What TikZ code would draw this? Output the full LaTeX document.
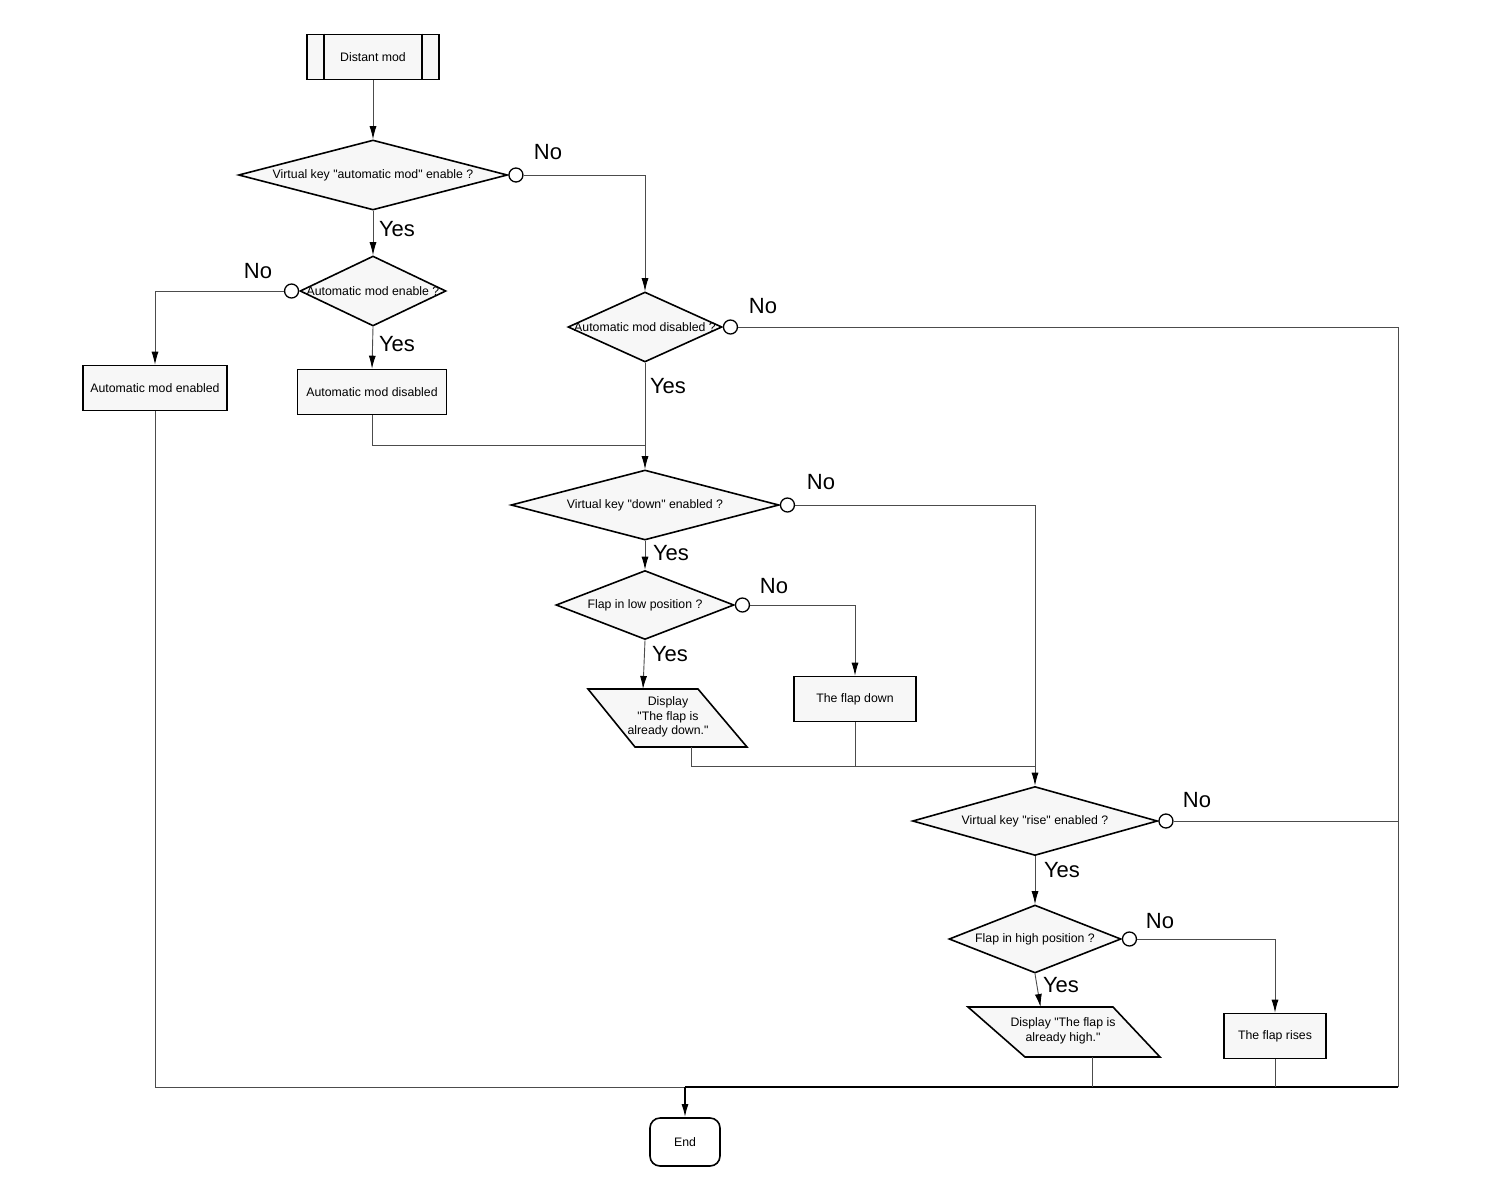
\documentclass[tikz,border=0pt]{standalone}
\usepackage{fontspec}
\setmainfont{Liberation Sans}[Ligatures=TeXOff]
\usetikzlibrary{shapes.geometric,arrows.meta,calc}

\begin{document}
\begin{tikzpicture}[x=1pt,y=-1pt,
  font=\fontsize{12.3}{14.5}\selectfont,
  box/.style={rectangle,draw,line width=1.6pt,fill=gray!6,minimum width=#1,minimum height=45pt,inner sep=0pt},
  decision/.style 2 args={diamond,draw,line width=1.6pt,fill=gray!6,minimum width=#1,minimum height=#2,inner sep=0pt},
  iobox/.style={draw,line width=1.6pt,fill=gray!6,line join=miter},
  knob/.style={circle,draw,line width=1.3pt,fill=white,minimum size=14pt,inner sep=0pt},
  ans/.style={font=\fontsize{22}{24}\selectfont},
  line/.style={draw=black!70,line width=0.9pt},
  arrow/.style={line,-{Latex[length=13pt,width=7pt,color=black]}}]
\useasboundingbox (0,0) rectangle (1500,1200);

\node (start) at (373,57) [box=132] {Distant mod};
\draw[line width=1.6pt] ([xshift=18pt]start.north west) -- ([xshift=18pt]start.south west);
\draw[line width=1.6pt] ([xshift=-18pt]start.north east) -- ([xshift=-18pt]start.south east);

\node (d1) at (373,175) [decision={269}{70},label=center:{Virtual key "automatic mod" enable ?}] {};
\node (d2) at (373,291) [decision={146}{70},label=center:{Automatic mod enable ?}] {};
\node (d3) at (645,327) [decision={154}{70},label=center:{Automatic mod disabled ?}] {};
\node (d4) at (645,505) [decision={268}{70},label=center:{Virtual key "down" enabled ?}] {};
\node (d5) at (645,605) [decision={178}{69},label=center:{Flap in low position ?}] {};
\node (d6) at (1035,821) [decision={245}{69},label=center:{Virtual key "rise" enabled ?}] {};
\node (d7) at (1035,939) [decision={172}{68},label=center:{Flap in high position ?}] {};

\node (c1) at (d1.east) [knob,anchor=west] {};
\node (c2) at (d2.west) [knob,anchor=east] {};
\node (c3) at (d3.east) [knob,anchor=west] {};
\node (c4) at (d4.east) [knob,anchor=west] {};
\node (c5) at (d5.east) [knob,anchor=west] {};
\node (c6) at (d6.east) [knob,anchor=west] {};
\node (c7) at (d7.east) [knob,anchor=west] {};

\node (en) at (155,388) [box=144] {Automatic mod enabled};
\node (dis) at (372,392) [box=149] {Automatic mod disabled};
\node (down) at (855,699) [box=122] {The flap down};
\node (rise) at (1275,1036) [box=102] {The flap rises};

\coordinate (p1tl) at (588,689);
\coordinate (p1tr) at (698,689);
\coordinate (p1br) at (747,747);
\coordinate (p1bl) at (635,747);
\coordinate (p1top) at ($(p1tl)!0.5!(p1tr)$);
\coordinate (p1bot) at ($(p1bl)!0.5!(p1br)$);
\draw[iobox] (p1tl) -- (p1tr) -- (p1br) -- (p1bl) -- cycle;
\node (p1) at (668,717) [align=center] {Display\\"The flap is\\already down."};
\coordinate (p2tl) at (968,1007);
\coordinate (p2tr) at (1113,1007);
\coordinate (p2br) at (1160,1057);
\coordinate (p2bl) at (1025,1057);
\coordinate (p2top) at ($(p2tl)!0.5!(p2tr)$);
\coordinate (p2bot) at ($(p2bl)!0.5!(p2br)$);
\draw[iobox] (p2tl) -- (p2tr) -- (p2br) -- (p2bl) -- cycle;
\node (p2) at (1063,1031) [align=center] {Display "The flap is\\already high."};

\node (stop) at (685,1142) [rectangle,rounded corners=10pt,draw,line width=1.6pt,fill=white,minimum width=70pt,minimum height=48pt] {End};

\node at (548,152) [ans] {No};
\node at (258,271) [ans] {No};
\node at (763,306) [ans] {No};
\node at (821,482) [ans] {No};
\node at (774,586) [ans] {No};
\node at (1197,800) [ans] {No};
\node at (1160,921) [ans] {No};
\node at (397,229) [ans] {Yes};
\node at (397,344) [ans] {Yes};
\node at (668,386) [ans] {Yes};
\node at (671,553) [ans] {Yes};
\node at (670,654) [ans] {Yes};
\node at (1062,870) [ans] {Yes};
\node at (1061,985) [ans] {Yes};

\coordinate (j1) at (645,445);
\coordinate (j2) at (1035,766);
\coordinate (jend) at (685,1087);
\coordinate (rgt) at (1398,1087);

\draw[arrow] (start.south) -- (d1.north);
\draw[arrow] (d1.south) -- (d2.north);
\draw[arrow] (c1.east) -| (d3.north);
\draw[arrow] (c2.west) -| (en.north);
\draw[arrow] (d2.south) -- (dis.north);
\draw[line] (dis.south) |- (j1);
\draw[arrow] (d3.south) -- (d4.north);
\draw[line] (c3.east) -| (rgt);
\draw[line,draw=black,line width=1.6pt] (rgt) -- (jend);
\draw[line] (en.south) |- (jend);
\draw[arrow,draw=black,line width=1.6pt] (jend) -- (stop.north);
\draw[arrow] (d4.south) -- (d5.north);
\draw[arrow] (c4.east) -| (d6.north);
\draw[arrow] (c5.east) -| (down.north);
\draw[arrow] (d5.south) -- (p1top);
\draw[line] (p1bot) |- (j2);
\draw[line] (down.south) -- (down.south |- j2);
\draw[arrow] (d6.south) -- (d7.north);
\draw[line] (c6.east) -- (c6.east -| rgt);
\draw[arrow] (c7.east) -| (rise.north);
\draw[arrow] (d7.south) -- (p2top);
\draw[line] (p2bot) -- (p2bot |- jend);
\draw[line] (rise.south) -- (rise.south |- jend);
\end{tikzpicture}
\end{document}
